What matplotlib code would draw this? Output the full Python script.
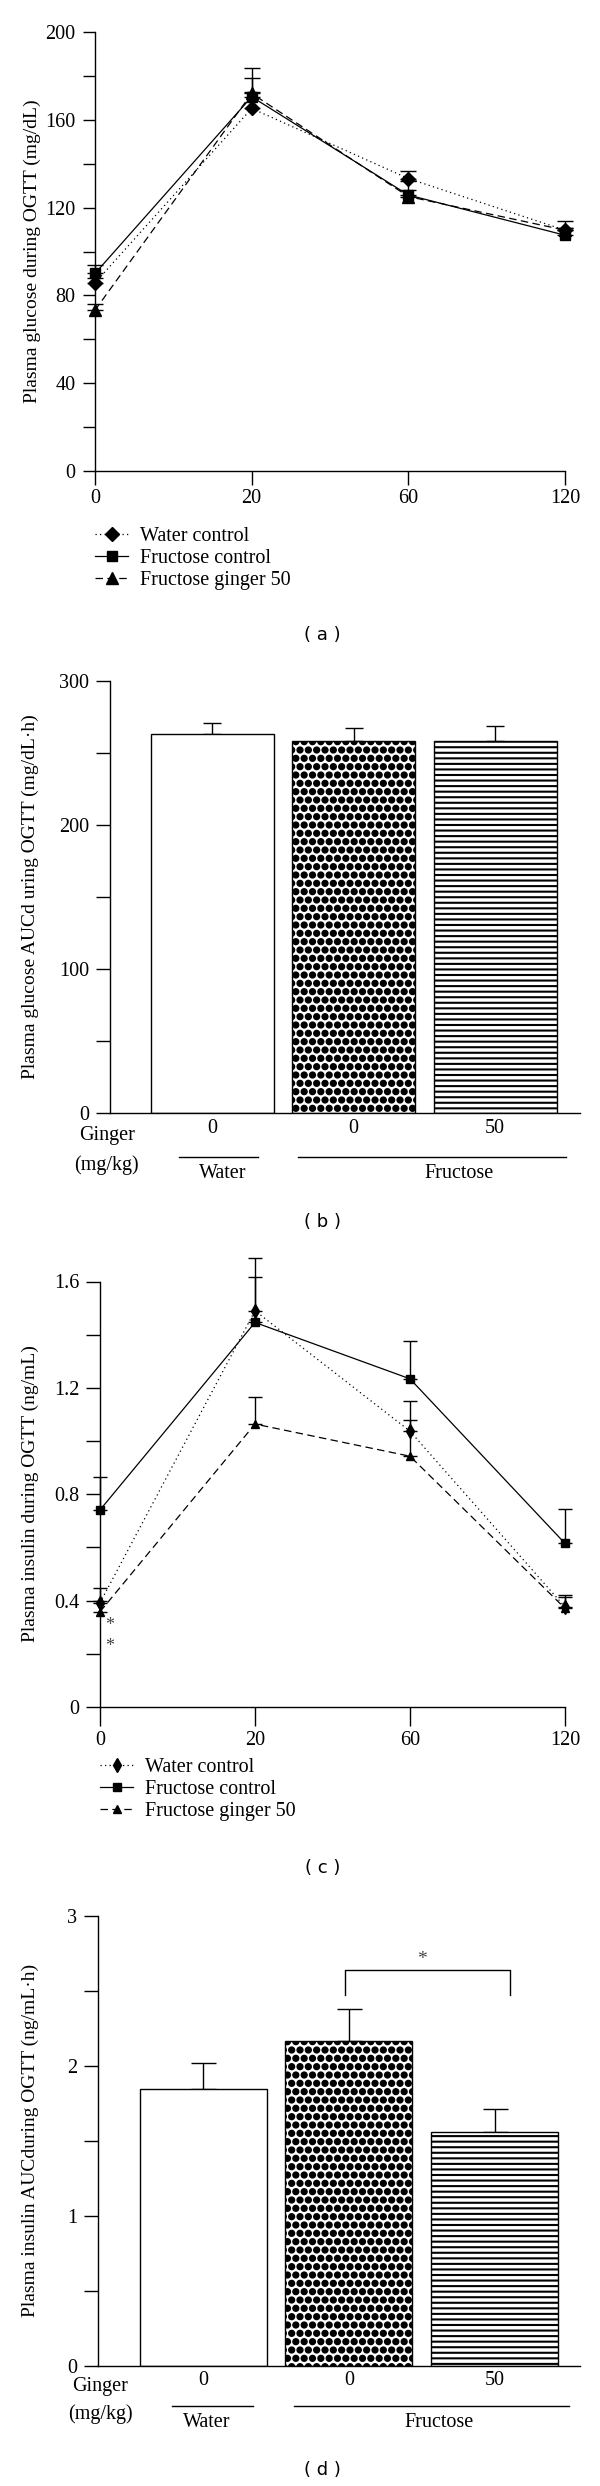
import matplotlib
matplotlib.use('Agg')
from matplotlib import pyplot as plt
from matplotlib.lines import Line2D
import matplotlib.hatch as mhatch
import matplotlib.transforms as mtrans
import numpy as np

plt.rcParams['font.family'] = ['Liberation Serif', 'DejaVu Serif']
plt.rcParams['font.size'] = 14.5
plt.rcParams['axes.linewidth'] = 1.0
plt.rcParams['hatch.linewidth'] = 1.0
plt.rcParams['hatch.color'] = 'black'

# make the '.' hatch draw bigger balls (dotted checker fill)
mhatch.SmallFilledCircles.size = 0.35

# ---- data ----
times = ['0', '20', '60', '120']
series = ['Water control', 'Fructose control', 'Fructose ginger 50']

# (a) plasma glucose (mg/dL)
glu_water = [85.7, 165.1, 133.2, 109.7]
glu_water_err = [2.3, 7.4, 3.4, 4.3]
glu_fruc = [90.0, 170.4, 125.7, 107.4]
glu_fruc_err = [3.8, 8.7, 6.2, 3.4]
glu_ging = [73.3, 171.9, 125.0, 109.7]
glu_ging_err = [2.6, 11.4, 3.0, 1.2]

# (b) glucose AUC
auc_groups = ['0', '0', '50']
glu_auc = [263.0, 258.5, 258.5]
glu_auc_err = [8.0, 8.9, 10.5]

# (c) plasma insulin (ng/mL)
ins_water = [0.392, 1.49, 1.037, 0.376]
ins_water_err = [0.054, 0.20, 0.115, 0.044]
ins_fruc = [0.741, 1.446, 1.234, 0.615]
ins_fruc_err = [0.125, 0.171, 0.141, 0.130]
ins_ging = [0.358, 1.064, 0.943, 0.371]
ins_ging_err = [0.04, 0.101, 0.135, 0.042]

# (d) insulin AUC
ins_auc = [1.843, 2.167, 1.557]
ins_auc_err = [0.178, 0.212, 0.157]

W, H = 600, 2486
fig = plt.figure(figsize=(W / 100, H / 100), dpi=100)


def fx(px):
    return px / W


def fy(py):
    return 1 - py / H


def make_axes(left, top, right, bottom):
    ax = fig.add_axes([fx(left), fy(bottom), (right - left) / W, (bottom - top) / H])
    ax.spines['top'].set_visible(False)
    ax.spines['right'].set_visible(False)
    return ax


styles = [dict(ls=(0, (1, 2.6)), marker='D'),
          dict(ls='-', marker='s'),
          dict(ls=(0, (6, 3.5)), marker='^')]


def line_panel(ax, data, errs, ms, capsize, diamond):
    x = np.arange(len(times))
    for i, (y, e) in enumerate(zip(data, errs)):
        ax.errorbar(x, y, yerr=[np.zeros(len(e)), e], fmt='none', ecolor='k',
                    elinewidth=1.0, capsize=capsize, capthick=1.0, clip_on=False, zorder=2)
    for i, y in enumerate(data):
        st = dict(styles[i])
        if i == 0:
            st['marker'] = diamond
        ax.plot(x, y, color='k', lw=0.9, ms=ms[i], clip_on=False, zorder=3, **st)
    ax.set_xlim(0, 3)
    ax.set_xticks(x)
    ax.set_xticklabels(times)
    ax.tick_params(axis='x', length=10, width=1.0, pad=3)


def legend_panel(ax, left, top, ms, diamond):
    handles = []
    for i in range(3):
        st = dict(styles[i])
        if i == 0:
            st['marker'] = diamond
        handles.append(Line2D([0], [0], color='k', lw=0.9, ms=ms[i], **st))
    ax.legend(handles, series, loc='upper left', bbox_to_anchor=(fx(left), fy(top)),
              bbox_transform=fig.transFigure, frameon=False, borderpad=0,
              borderaxespad=0, handlelength=1.65, handletextpad=0.6,
              labelspacing=0.14, fontsize=14.5)


def bar_panel(ax, vals, errs, width, capsize):
    x = np.arange(len(vals))
    bars = ax.bar(x, vals, width=width, color='white', edgecolor='black', linewidth=1.0, zorder=2)
    bars[1].set_hatch('..')
    bars[2].set_hatch('---')
    if hasattr(bars[2], 'set_hatch_linewidth'):
        bars[1].set_hatch_linewidth(1.0)
        bars[2].set_hatch_linewidth(1.5)
    ax.errorbar(x, vals, yerr=[np.zeros(len(errs)), errs], fmt='none', ecolor='k',
                elinewidth=1.0, capsize=capsize, capthick=1.0, zorder=1)
    ax.set_xticks(x)
    ax.set_xticklabels(auc_groups)
    ax.tick_params(axis='x', length=0, pad=4)


def bar_footer(ax, px0, pxw, ybottom, yscale, ginger, lines, names):
    trans = mtrans.blended_transform_factory(ax.transData, ax.transAxes)
    to_x = lambda p: (p - px0) / pxw
    to_y = lambda p: (ybottom - p) / yscale
    ax.text(to_x(ginger[0]), to_y(ginger[1]), 'Ginger', transform=trans, ha='center', va='center')
    ax.text(to_x(ginger[0]), to_y(ginger[2]), '(mg/kg)', transform=trans, ha='center', va='center')
    for (a, b, yl), (name, xn, yn) in zip(lines, names):
        ax.plot([to_x(a), to_x(b)], [to_y(yl), to_y(yl)], color='k', lw=1.0,
                transform=trans, clip_on=False)
        ax.text(to_x(xn), to_y(yn), name, transform=trans, ha='center', va='center')


# ---------- (a) ----------
ax_a = make_axes(95, 31.7, 565, 471.3)
line_panel(ax_a, [glu_water, glu_fruc, glu_ging],
           [glu_water_err, glu_fruc_err, glu_ging_err], [7.5, 7.5, 8], 5.8, 'D')
ax_a.set_ylim(0, 200)
ax_a.set_yticks(np.arange(0, 201, 40))
ax_a.set_yticks(np.arange(20, 200, 40), minor=True)
ax_a.tick_params(axis='y', which='both', length=9, width=1.0, pad=5)
legend_panel(ax_a, 95, 527, [7.5, 7.5, 8], 'D')
fig.text(fx(32.5), fy(251.5), 'Plasma glucose during OGTT (mg/dL)', rotation=90,
         ha='center', va='center', fontsize=14)

# ---------- (b) ----------
ax_b = make_axes(110, 681, 580, 1113)
bar_panel(ax_b, glu_auc, glu_auc_err, 0.869, 6.8)
ax_b.set_xlim(-0.722, 2.60)
ax_b.set_ylim(0, 300)
ax_b.set_yticks([0, 100, 200, 300])
ax_b.set_yticks([50, 150, 250], minor=True)
ax_b.tick_params(axis='y', which='both', length=10, width=1.0, pad=5)
bar_footer(ax_b, 212.2, 141.5, 1113, 432, (106.7, 1136, 1165),
           [(179, 257.7, 1156.7), (297.7, 565.6, 1156.7)],
           [('Water', 222.7, 1173.3), ('Fructose', 459.2, 1173.3)])
fig.text(fx(30.5), fy(897), 'Plasma glucose AUCd uring OGTT (mg/dL\u00b7h)', rotation=90,
         ha='center', va='center', fontsize=14)

# ---------- (c) ----------
ax_c = make_axes(100, 1281.5, 565, 1707)
line_panel(ax_c, [ins_water, ins_fruc, ins_ging],
           [ins_water_err, ins_fruc_err, ins_ging_err], [7, 5.5, 6], 4.8, 'd')
ax_c.set_ylim(0, 1.6)
ax_c.set_yticks([0, 0.4, 0.8, 1.2, 1.6])
ax_c.set_yticklabels(['0', '0.4', '0.8', '1.2', '1.6'])
ax_c.set_yticks([0.2, 0.6, 1.0, 1.4], minor=True)
ax_c.tick_params(axis='y', which='both', length=10, width=1.0, pad=5)
ax_c.tick_params(axis='x', length=14)
ax_c.text(0.06, 0.306, '*', color='#444444', ha='center', va='center', fontsize=13)
ax_c.text(0.06, 0.227, '*', color='#444444', ha='center', va='center', fontsize=13)
legend_panel(ax_c, 100, 1758, [7, 5.5, 6], 'd')
fig.text(fx(30.6), fy(1494), 'Plasma insulin during OGTT (ng/mL)', rotation=90,
         ha='center', va='center', fontsize=14)

# ---------- (d) ----------
ax_d = make_axes(98.3, 1915.7, 580, 2365.7)
bar_panel(ax_d, ins_auc, ins_auc_err, 0.872, 9)
ax_d.set_xlim(-0.721, 2.587)
ax_d.set_ylim(0, 3)
ax_d.set_yticks([0, 1, 2, 3])
ax_d.set_yticks([0.5, 1.5, 2.5], minor=True)
ax_d.tick_params(axis='y', which='both', length=10, width=1.0, pad=5)
ax_d.plot([0.97, 0.97, 2.105, 2.105], [2.474, 2.64, 2.64, 2.474], color='k', lw=1.0)
ax_d.text(1.5, 2.71, '*', color='#444444', ha='center', va='center', fontsize=14)
bar_footer(ax_d, 203.3, 145.6, 2365.7, 450, (100, 2386, 2414.3),
           [(171.7, 253.3, 2405.7), (294, 569, 2405.7)],
           [('Water', 206.7, 2422.3), ('Fructose', 439.3, 2422.3)])
fig.text(fx(30.5), fy(2140.7), 'Plasma insulin AUCduring OGTT (ng/mL\u00b7h)', rotation=90,
         ha='center', va='center', fontsize=14)

# panel captions
for lab, py in zip(['a', 'b', 'c', 'd'], [635, 1221.7, 1868.3, 2470]):
    fig.text(fx(322.7), fy(py), '( %s )' % lab, family='DejaVu Sans', fontsize=13,
             ha='center', va='center')

fig.savefig('out.png', dpi=100)
